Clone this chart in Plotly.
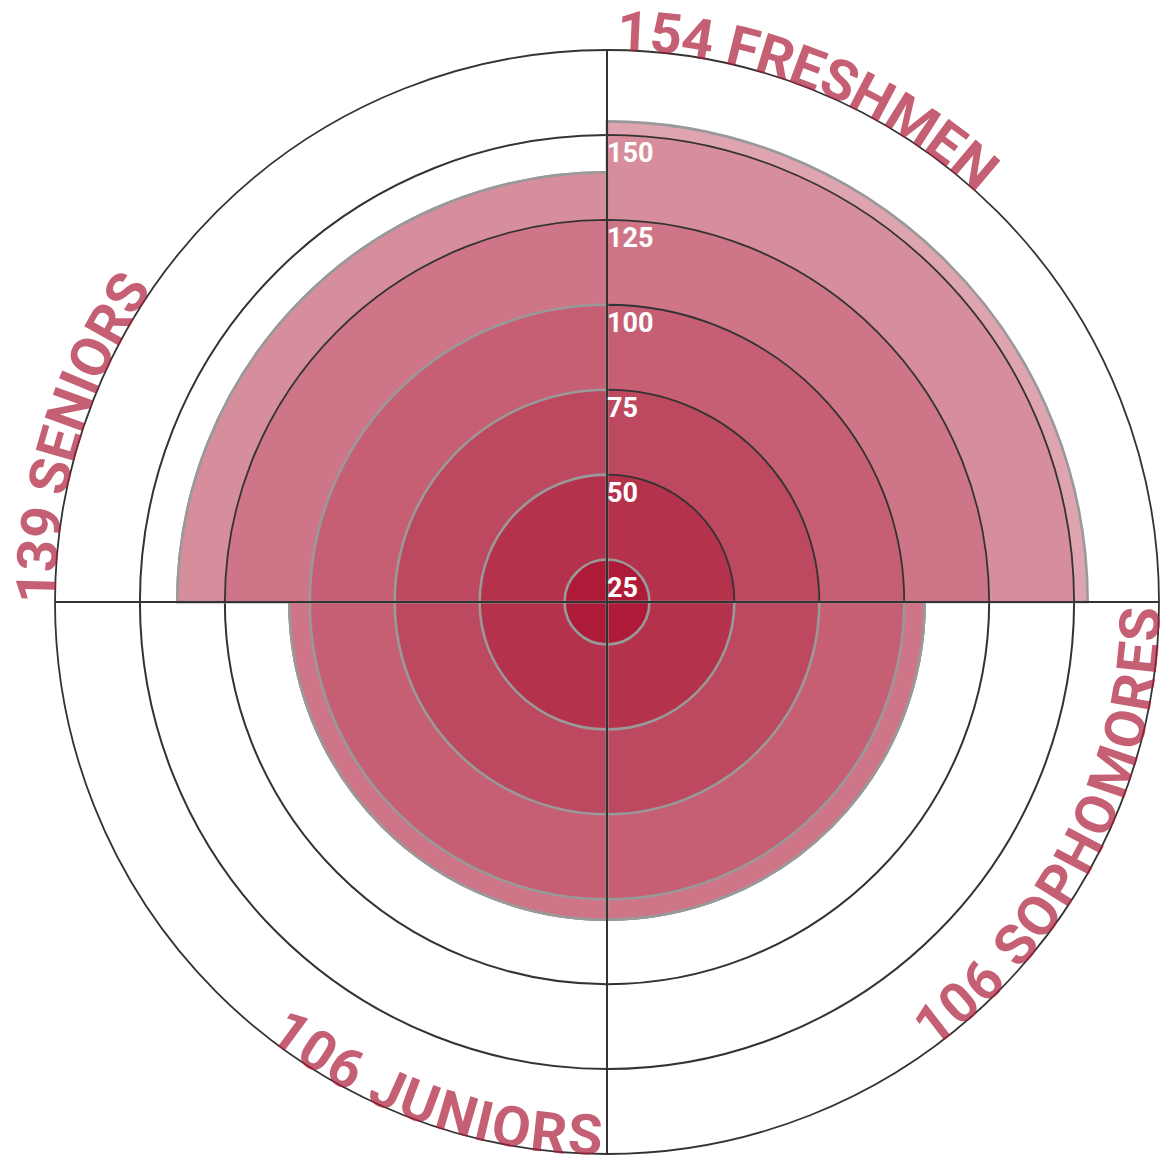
import math
import plotly.graph_objects as go

# ---------------- data ----------------
CATEGORIES = ["FRESHMEN", "SOPHOMORES", "JUNIORS", "SENIORS"]
COUNTS = [154, 106, 106, 139]
RING_LEVELS = [25, 50, 75, 100, 125, 150, 175]
TICK_VALUES = [25, 50, 75, 100, 125, 150]
TICK_LABELS = ["25", "50", "75", "100", "125", "150"]

# ---------------- styles ----------------
FIG_W, FIG_H = 1167, 1159
CX, CY, R_OUT = 607, 602, 552
RADIAL_RANGE = [12.5, 175]
BASE_RGB = (173, 27, 56)
RING_OPACITY = [1.0, 0.9, 0.8, 0.7, 0.6, 0.5, 0.4]
DARK_EDGES = {"FRESHMEN": [50, 75, 100, 125, 150], "SENIORS": [125]}
GRID_COLOR = "#333333"
EDGE_GREY = "#999999"
LABEL_SHIFT = [9, 6, 6, 6, 6, 6]
LABEL_FONT = 56
LABEL_COLOR = "rgba(173,27,56,0.7)"
TOP_BASELINE_R = 551.5      # top labels sit outside the ring
BOTTOM_BASELINE_R = 553     # bottom labels sit inside the ring
BOTTOM_ADV_R = 512          # radius along which bottom label advances are laid out
LABEL_OFFSET_DEG = [1.0, 0.5, 0.5, -0.2]

# Roboto Bold advance widths (em)
ADV = {" ": 0.245, "0": 0.5615, "1": 0.5615, "3": 0.5615, "4": 0.5615, "5": 0.5615,
       "6": 0.5615, "9": 0.5615, "F": 0.540, "R": 0.622, "E": 0.554, "S": 0.598,
       "H": 0.703, "M": 0.872, "N": 0.702, "O": 0.676, "P": 0.634, "J": 0.551,
       "U": 0.635, "I": 0.284}


def blend(alpha):
    return "rgb(%d,%d,%d)" % tuple(round(255 - alpha * (255 - c)) for c in BASE_RGB)


n = len(CATEGORIES)
step = 360.0 / n
thetas = [(i + 0.5) * step for i in range(n)]

fig = go.Figure()

# overlapping bars, largest ring first so inner rings sit on top
for k in range(len(RING_LEVELS) - 1, -1, -1):
    level = RING_LEVELS[k]
    tops = [min(c, level) for c in COUNTS]
    line_colors, line_widths = [], []
    for cat, t in zip(CATEGORIES, tops):
        dark = (t == level) and (t in DARK_EDGES.get(cat, []))
        line_colors.append(GRID_COLOR if dark else EDGE_GREY)
        line_widths.append(1.8 if dark else 2.6)
    fig.add_trace(go.Barpolar(
        r=[t - RADIAL_RANGE[0] for t in tops],
        base=RADIAL_RANGE[0],
        theta=thetas,
        width=[step] * n,
        marker=dict(color=blend(RING_OPACITY[k]),
                    line=dict(color=line_colors, width=line_widths)),
        hoverinfo="skip",
        showlegend=False,
        subplot="polar",
    ))

# radial tick labels on the top polar layer
fig.add_trace(go.Scatterpolar(
    r=[v - s for v, s in zip(TICK_VALUES, LABEL_SHIFT)],
    theta=[0] * len(TICK_VALUES),
    mode="text",
    text=TICK_LABELS,
    textposition="middle right",
    textfont=dict(family="Roboto", size=27, color="white", weight="bold"),
    hoverinfo="skip",
    showlegend=False,
    cliponaxis=False,
    subplot="polar2",
))

domain = dict(x=[(CX - R_OUT) / FIG_W, (CX + R_OUT) / FIG_W],
              y=[1 - (CY + R_OUT) / FIG_H, 1 - (CY - R_OUT) / FIG_H])
boundaries = [i * step for i in range(n)]

fig.update_layout(
    width=FIG_W, height=FIG_H,
    margin=dict(l=0, r=0, t=0, b=0),
    paper_bgcolor="white",
    plot_bgcolor="white",
    showlegend=False,
    polar=dict(
        domain=domain, barmode="overlay", bgcolor="white",
        radialaxis=dict(range=RADIAL_RANGE, tickvals=TICK_VALUES, showticklabels=False,
                        ticks="", showline=False, gridcolor=GRID_COLOR, gridwidth=1.8,
                        angle=90),
        angularaxis=dict(rotation=90, direction="clockwise", tickvals=boundaries,
                         showticklabels=False, ticks="", showline=True,
                         linecolor=GRID_COLOR, linewidth=1.8,
                         gridcolor=GRID_COLOR, gridwidth=1.8),
    ),
    polar2=dict(
        domain=domain, bgcolor="rgba(0,0,0,0)",
        radialaxis=dict(range=RADIAL_RANGE, showgrid=False, showline=False,
                        showticklabels=False, ticks=""),
        angularaxis=dict(rotation=90, direction="clockwise", tickvals=boundaries,
                         showticklabels=False, ticks="", showline=False,
                         gridcolor=GRID_COLOR, gridwidth=1.8),
    ),
)

# curved category labels, one annotation per character along the outer ring
annotations = []
for i, (cat, cnt) in enumerate(zip(CATEGORIES, COUNTS)):
    text = f"{cnt} {cat}"
    advs = [ADV.get(ch, 0.6) * LABEL_FONT for ch in text]
    total = sum(advs)
    mid = (i + 0.5) * step
    bottom = 90 < mid < 270
    sector_start = i * step
    pos = 0.0
    for ch, a in zip(text, advs):
        center = pos + a / 2
        pos += a
        if ch == " ":
            continue
        if not bottom:
            phi = sector_start + LABEL_OFFSET_DEG[i] + math.degrees(center / TOP_BASELINE_R)
            rc = TOP_BASELINE_R + 0.342 * LABEL_FONT
            ang = phi
        else:
            phi = sector_start + LABEL_OFFSET_DEG[i] + math.degrees((total - center) / BOTTOM_ADV_R)
            rc = BOTTOM_BASELINE_R - 0.342 * LABEL_FONT
            ang = phi - 180
        ang = (ang + 180) % 360 - 180
        px = CX + rc * math.sin(math.radians(phi))
        py = CY - rc * math.cos(math.radians(phi))
        annotations.append(dict(
            x=px / FIG_W, y=1 - py / FIG_H, xref="paper", yref="paper",
            text=ch, showarrow=False, xanchor="center", yanchor="middle",
            textangle=ang, borderpad=0,
            font=dict(family="Roboto", size=LABEL_FONT, color=LABEL_COLOR, weight="bold"),
        ))
fig.update_layout(annotations=annotations)

fig.write_html("out.html", config={"displayModeBar": False},
               post_script="document.body.style.margin='0';")
